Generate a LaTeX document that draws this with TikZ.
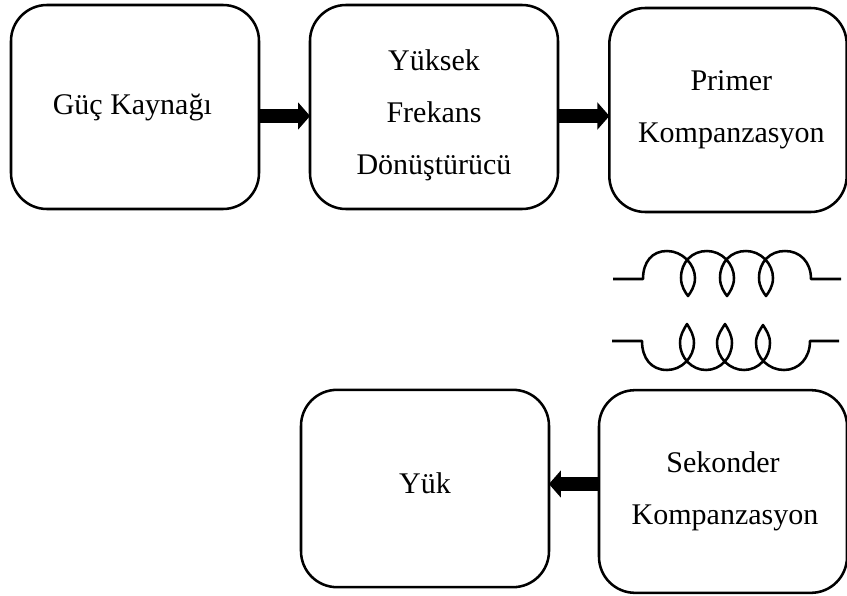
\documentclass[tikz,border=0pt]{standalone}
\usepackage{fontspec}
\setmainfont{Liberation Serif}
\usetikzlibrary{arrows.meta}

\tikzset{
    blok/.style={draw=black,line width=1.9pt,rounded corners=27pt,align=center,
        minimum width=186pt,minimum height=153pt,inner sep=0pt,
        font=\fontsize{22.5}{39}\selectfont},
    okblok/.style={line width=10.5pt,-{Triangle[length=9pt,width=20pt]},shorten >=-1pt},
    sarim/.style={black,line width=1.9pt,line join=round}
}

\begin{document}
\begin{tikzpicture}[x=0.75pt,y=-0.75pt]
        \useasboundingbox (0,0) rectangle (847,596);

        \node[blok] (guc) at (135,107) {Güç Kaynağı\hspace*{4pt}};
        \node[blok] (yuksek) at (434,107) {\mbox{}\\[-11pt]Yüksek\\Frekans\\Dönüştürücü};
        \node[blok,minimum width=178pt] (primer) at (728,110) {\hspace*{5pt}Primer\\\hspace*{5pt}Kompanzasyon};
        \node[blok,minimum height=148pt,text depth=8pt] (yuk) at (425,488.5) {Yük};
        \node[blok,minimum height=152pt] (sekonder) at (723,491.5) {Sekonder\\\hspace*{3pt}Kompanzasyon};

        \draw[okblok] ([yshift=-6.75pt]guc.east) -- ([yshift=-6.75pt]yuksek.west);
        \draw[okblok] ([yshift=-6.75pt]yuksek.east) -- ([yshift=-4.5pt]primer.west);
        \draw[okblok] (sekonder.west |- 0,484) -- (yuk.east |- 0,484);

        \draw[sarim] (613,279) -- (643,279)
            .. controls (643,262) and (652,251) .. (667,251)
            .. controls (682,251) and (695,264) .. (695,278)
            .. controls (695,286) and (691,292) .. (688,296)
            .. controls (685,292) and (681,286) .. (681,278)
            .. controls (681,262) and (692,251) .. (707,251)
            .. controls (722,251) and (734,264) .. (734,278)
            .. controls (734,286) and (730,292) .. (727,296)
            .. controls (724,292) and (720,286) .. (720,278)
            .. controls (720,262) and (731,251) .. (746,251)
            .. controls (761,251) and (773,264) .. (773,278)
            .. controls (773,286) and (769,292) .. (766,296)
            .. controls (763,292) and (759,286) .. (759,278)
            .. controls (759,262) and (770,251) .. (785,251)
            .. controls (800,251) and (811,262) .. (811,279)
            -- (841,279);
        \draw[sarim] (612,341) -- (642,341)
            .. controls (642,358) and (651,370) .. (667,370)
            .. controls (682,370) and (694,357) .. (694,343)
            .. controls (694,335) and (690,329) .. (687,324)
            .. controls (684,329) and (680,335) .. (680,343)
            .. controls (680,358) and (692,370) .. (706,370)
            .. controls (721,370) and (732,357) .. (732,343)
            .. controls (732,335) and (728,329) .. (725,324)
            .. controls (722,329) and (717,335) .. (717,343)
            .. controls (717,358) and (730,370) .. (744,370)
            .. controls (759,370) and (770,357) .. (770,343)
            .. controls (770,335) and (766,330) .. (763,325)
            .. controls (760,330) and (756,335) .. (756,343)
            .. controls (756,358) and (769,370) .. (784,370)
            .. controls (799,370) and (810,358) .. (810,341)
            -- (839,341);
    \end{tikzpicture}
\end{document}
